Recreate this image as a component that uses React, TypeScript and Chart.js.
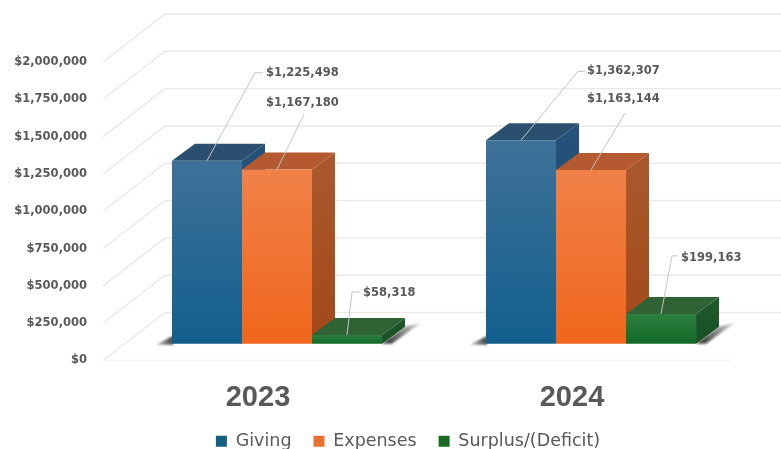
import { useEffect, useRef } from "react";
import { Chart, registerables } from "chart.js";

Chart.register(...registerables);

const years = ["2023", "2024"];
const giving = [1225498, 1362307];
const expenses = [1167180, 1163144];
const surplus = [58318, 199163];
const seriesNames = ["Giving", "Expenses", "Surplus/(Deficit)"];
const tickStep = 250000;
const tickMax = 2000000;

// styling / layout constants
const INK = "#595959";
const GRID = "#e9e9e9";
const LABEL_FONT = "bold 11.5px 'DejaVu Sans'";
const BAR_DX = 23;
const BAR_DY = -17;
const WALL_DX = 62;
const WALL_DY = -48;
const SIDE_LEFT = 17;
const PLANE_OFFSET_VALUE = 113000;
const LEGEND_SHIFT = 34;
const FACES = [
  { legend: "#156082", top: "#3f7198", bottom: "#125f8e", cap: "#2b506f", sideT: "#25527a", sideB: "#1a4a6c" },
  { legend: "#E97132", top: "#f08148", bottom: "#f0661c", cap: "#b55a30", sideT: "#a9592d", sideB: "#a2491a" },
  { legend: "#196B24", top: "#2f8040", bottom: "#116a26", cap: "#2f6336", sideT: "#1f5a2c", sideB: "#174f22" },
];
// [knee dx, knee dy, horizontal end dx, label left dx, label dy]; relative to bar centre/top
const LEADERS = [
  [[48, -88, 56, 59, -88], [57, -69, 64, 66, -69]],
  [[27, -55, 27, -11, -66], [34, -57, 34, -4, -71]],
  [[5, -43, 13, 16, -42], [11, -58, 17, 20, -56]],
];

const money = (v: number) => "$" + v.toLocaleString("en-US");

const scene = {
  id: "scene",
  afterLayout(chart: any) {
    chart.legend.left += LEGEND_SHIFT;
    chart.legend.right += LEGEND_SHIFT;
  },
  beforeDatasetsDraw(chart: any) {
    const { ctx, chartArea, scales } = chart;
    const y = scales.y;
    const left = chartArea.left - SIDE_LEFT;
    const back = left + WALL_DX;
    ctx.save();
    ctx.strokeStyle = GRID;
    ctx.lineWidth = 1.4;
    for (const t of y.ticks) {
      const py = y.getPixelForValue(t.value);
      ctx.beginPath();
      ctx.moveTo(left, py);
      ctx.lineTo(back, py + WALL_DY);
      ctx.lineTo(chart.width, py + WALL_DY);
      ctx.stroke();
    }
    const floor = y.getPixelForValue(0);
    ctx.strokeStyle = "#f3f3f3";
    ctx.beginPath();
    ctx.moveTo(left, floor);
    ctx.lineTo(chartArea.right - 18, floor);
    ctx.stroke();
    // contact shadows at both ends of each group
    const first = chart.getDatasetMeta(0).data;
    const last = chart.getDatasetMeta(2).data;
    ctx.filter = "blur(1px)";
    first.forEach((b: any, i: number) => {
      const l = b.x - b.width / 2;
      const r = last[i].x + last[i].width / 2;
      const base = b.base;
      const gl = ctx.createLinearGradient(l - 16, 0, l + 1, 0);
      gl.addColorStop(0, "rgba(50,50,50,0.25)");
      gl.addColorStop(1, "rgba(40,40,40,0.9)");
      ctx.fillStyle = gl;
      ctx.beginPath();
      ctx.moveTo(l + 1, base + 1);
      ctx.lineTo(l + 1, base - 8);
      ctx.lineTo(l - 16, base + 1);
      ctx.closePath();
      ctx.fill();
      const gr = ctx.createLinearGradient(r + 6, 0, r + BAR_DX + 16, 0);
      gr.addColorStop(0, "rgba(40,40,40,0.9)");
      gr.addColorStop(1, "rgba(50,50,50,0.15)");
      ctx.fillStyle = gr;
      ctx.beginPath();
      ctx.moveTo(r, base);
      ctx.lineTo(r + BAR_DX, base + BAR_DY);
      ctx.lineTo(r + BAR_DX + 16, base + BAR_DY - 4);
      ctx.lineTo(r + 10, base);
      ctx.closePath();
      ctx.fill();
    });
    ctx.filter = "none";
    // depth faces, back-to-front by series; the library paints the front faces over them
    chart.data.datasets.forEach((_: any, d: number) => {
      const f = FACES[d];
      for (const bar of chart.getDatasetMeta(d).data) {
        const l = bar.x - bar.width / 2;
        const r = bar.x + bar.width / 2;
        const t = bar.y;
        const b = bar.base;
        const g = ctx.createLinearGradient(0, t + BAR_DY, 0, b);
        g.addColorStop(0, f.sideT);
        g.addColorStop(1, f.sideB);
        ctx.fillStyle = g;
        ctx.beginPath();
        ctx.moveTo(r, t);
        ctx.lineTo(r + BAR_DX, t + BAR_DY);
        ctx.lineTo(r + BAR_DX, b + BAR_DY);
        ctx.lineTo(r, b);
        ctx.closePath();
        ctx.fill();
        ctx.fillStyle = f.cap;
        ctx.beginPath();
        ctx.moveTo(l, t);
        ctx.lineTo(l + BAR_DX, t + BAR_DY);
        ctx.lineTo(r + BAR_DX, t + BAR_DY);
        ctx.lineTo(r, t);
        ctx.closePath();
        ctx.fill();
      }
    });
    ctx.restore();
  },
  afterDatasetsDraw(chart: any) {
    const { ctx } = chart;
    ctx.save();
    ctx.font = LABEL_FONT;
    ctx.fillStyle = INK;
    ctx.textAlign = "left";
    ctx.textBaseline = "middle";
    ctx.lineWidth = 1;
    ctx.strokeStyle = "#c4c4c4";
    chart.data.datasets.forEach((ds: any, d: number) => {
      chart.getDatasetMeta(d).data.forEach((bar: any, i: number) => {
        const [kx, ky, ex, lx, ly] = LEADERS[d][i];
        ctx.beginPath();
        ctx.moveTo(bar.x, bar.y);
        ctx.lineTo(bar.x + kx, bar.y + ky);
        ctx.lineTo(bar.x + ex, bar.y + ky);
        ctx.stroke();
        ctx.fillText(money(ds.data[i]), bar.x + lx, bar.y + ly);
      });
    });
    ctx.restore();
  },
};

export default function App() {
  const ref = useRef<HTMLCanvasElement>(null);
  useEffect(() => {
    const series = [giving, expenses, surplus];
    const chart = new Chart(ref.current as HTMLCanvasElement, {
      type: "bar",
      data: {
        labels: years,
        datasets: series.map((data, d) => ({
          label: seriesNames[d],
          data,
          yAxisID: "yb",
          borderWidth: 0,
          categoryPercentage: 0.669,
          barPercentage: 1,
          clip: false as any,
          backgroundColor: (c: any) => {
            const f = FACES[d];
            const sc = c.chart.scales?.yb;
            if (!sc || c.raw === undefined || !c.chart.chartArea) return f.legend;
            const g = c.chart.ctx.createLinearGradient(0, sc.getPixelForValue(c.raw), 0, sc.getPixelForValue(0));
            g.addColorStop(0, f.top);
            g.addColorStop(1, f.bottom);
            return g;
          },
        })),
      },
      options: {
        responsive: false,
        animation: false,
        devicePixelRatio: 1,
        layout: { autoPadding: false, padding: { left: 0, top: 62, right: 33, bottom: -11 } },
        plugins: {
          title: { display: false },
          tooltip: { enabled: false },
          legend: {
            position: "bottom",
            labels: {
              boxWidth: 11,
              boxHeight: 11,
              padding: 22,
              color: INK,
              font: { family: "'DejaVu Sans'", size: 17.5 },
              generateLabels: (ch: any) =>
                ch.data.datasets.map((ds: any, i: number) => ({
                  text: ds.label,
                  fillStyle: FACES[i].legend,
                  strokeStyle: FACES[i].legend,
                  lineWidth: 0,
                  fontColor: INK,
                  datasetIndex: i,
                })),
            },
          },
        },
        scales: {
          x: {
            grid: { display: false, drawTicks: false },
            border: { display: false },
            ticks: { color: INK, padding: 20, labelOffset: -19, maxRotation: 0, font: { family: "'Liberation Sans'", size: 29, weight: "bold" } },
            afterFit: (s: any) => { s.height = 50; },
          },
          y: {
            min: 0,
            max: tickMax,
            grid: { display: false, drawTicks: false },
            border: { display: false },
            ticks: {
              stepSize: tickStep,
              padding: 33,
              color: INK,
              font: { family: "'DejaVu Sans'", size: 11.5, weight: "bold" },
              callback: (v: any) => money(Number(v)),
            },
            afterFit: (s: any) => { s.width = 120; },
          },
          yb: {
            display: false,
            min: -PLANE_OFFSET_VALUE,
            max: tickMax - PLANE_OFFSET_VALUE,
          },
        },
      } as any,
      plugins: [scene],
    });
    return () => chart.destroy();
  }, []);
  return (
    <canvas
      ref={ref}
      width={781}
      height={449}
      style={{ position: "fixed", left: 0, top: 0, width: 781, height: 449, display: "block", background: "#fff", filter: "blur(0.7px)" }}
    />
  );
}
